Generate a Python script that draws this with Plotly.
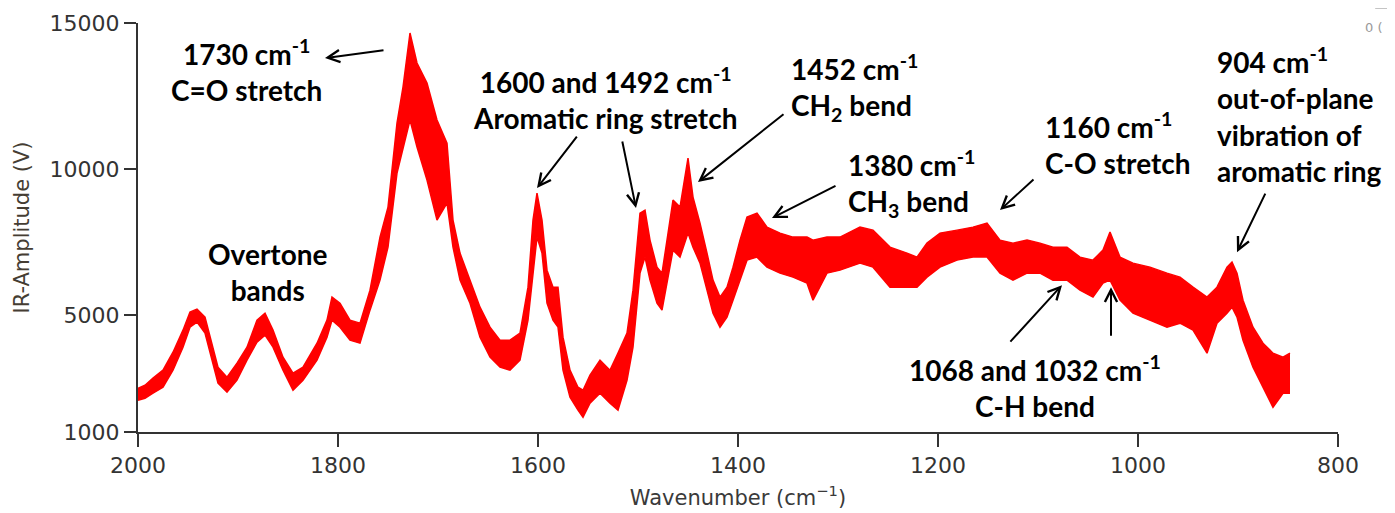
import plotly.graph_objects as go

# Wavenumber (cm^-1) and envelope (upper / lower) of the overlaid spectra, IR amplitude (V)
wavenumber = [2000, 1993, 1985, 1975, 1965, 1955, 1948, 1941, 1933, 1926, 1920, 1911, 1901, 1891,
              1881, 1873, 1865, 1855, 1845, 1835, 1821, 1811, 1806, 1798, 1788, 1778, 1768, 1758,
              1750, 1741, 1735, 1728, 1721, 1711, 1701, 1691, 1685, 1678, 1668, 1658, 1648, 1638,
              1628, 1618, 1610, 1605, 1601, 1596, 1591, 1585, 1580, 1575, 1568, 1560, 1555, 1548,
              1538, 1528, 1520, 1511, 1505, 1498, 1493, 1488, 1481, 1476, 1471, 1465, 1458, 1450,
              1445, 1438, 1431, 1425, 1418, 1411, 1405, 1398, 1391, 1381, 1371, 1358, 1345, 1331,
              1325, 1311, 1298, 1278, 1265, 1248, 1231, 1221, 1211, 1198, 1181, 1165, 1151, 1138,
              1125, 1111, 1098, 1085, 1071, 1058, 1045, 1035, 1028, 1018, 1005, 988, 971, 958,
              945, 931, 921, 911, 906, 901, 895, 885, 875, 865, 855, 848]

upper = [2499, 2602, 2842, 3116, 3732, 4486, 5102, 5205, 4931, 4040, 3218, 2876, 3355, 3903,
         4828, 5068, 4486, 3561, 3013, 3218, 4040, 4828, 5616, 5410, 4828, 4725, 5855, 7671,
         8698, 11575, 12808, 14658, 13630, 12945, 11678, 10890, 8253, 7123, 6198, 5273, 4588, 4143,
         4143, 4383, 5958, 8253, 9178, 8253, 6540, 5958, 5958, 4246, 3116, 2533, 2430, 2944,
         3458, 3116, 3698, 4383, 5855, 8493, 8595, 7568, 6643, 6438, 7568, 8938, 8698, 10377,
         9041, 8150, 7123, 6198, 5616, 5958, 6643, 7568, 8356, 8493, 8013, 7808, 7671, 7671,
         7568, 7671, 7671, 8013, 7910, 7328, 7123, 6986, 7465, 7808, 7910, 8013, 8150, 7568,
         7465, 7568, 7465, 7328, 7328, 6986, 6883, 7226, 7842, 6986, 6780, 6643, 6438, 6301,
         5958, 5616, 5958, 6643, 6814, 6438, 5513, 4588, 4040, 3698, 3561, 3698]

lower = [2088, 2157, 2328, 2533, 3116, 3903, 4588, 4760, 4383, 3458, 2670, 2362, 2773, 3458,
         4075, 4315, 3903, 3116, 2430, 2773, 3458, 4246, 4828, 4588, 4143, 4040, 5171, 6198,
         7328, 9863, 10753, 11678, 10753, 9623, 8253, 8835, 7328, 6198, 5410, 4246, 3561, 3218,
         3116, 3458, 4828, 6540, 7671, 7123, 5410, 4828, 4588, 3116, 2191, 1746, 1506, 1985,
         2328, 1985, 1746, 2773, 3903, 6438, 6986, 6198, 5410, 5171, 6095, 7226, 6986, 7808,
         7328, 6780, 5855, 5068, 4588, 4931, 5513, 6198, 6883, 6986, 6643, 6438, 6301, 6095,
         5513, 6438, 6540, 6780, 6643, 5958, 5958, 5958, 6301, 6643, 6883, 6986, 6986, 6438,
         6198, 6438, 6438, 6198, 6198, 5855, 5616, 6095, 6198, 5513, 5068, 4828, 4588, 4725,
         4486, 3698, 4725, 5068, 5273, 4931, 4143, 3218, 2533, 1849, 2328, 2328]

x_ticks = [2000, 1800, 1600, 1400, 1200, 1000, 800]
x_tick_labels = ["2000", "1800", "1600", "1400", "1200", "1000", "800"]
y_ticks = [1000, 5000, 10000, 15000]
y_tick_labels = ["1000", "5000", "10000", "15000"]

RED = "#FF0000"
AX = "#333333"
ANN_FONT = dict(family="Lato", size=28, color="black", weight="bold")

fig = go.Figure()
fig.add_trace(go.Scatter(x=wavenumber, y=lower, mode="lines",
                         line=dict(color=RED, width=1.5), showlegend=False, hoverinfo="skip"))
fig.add_trace(go.Scatter(x=wavenumber, y=upper, mode="lines", fill="tonexty", fillcolor=RED,
                         line=dict(color=RED, width=1.5), showlegend=False, hoverinfo="skip"))

# text labels: (text, x, y, xanchor, align)
labels = [
    ("1730 cm<sup>-1</sup><br>C=O stretch", 1892, 13390, "center", "center"),
    ("Overtone<br>bands", 1870, 6472, "center", "center"),
    ("1600 and 1492 cm<sup>-1</sup><br>Aromatic ring stretch", 1533, 12431, "center", "center"),
    ("1452 cm<sup>-1</sup><br>CH<sub>2</sub> bend", 1349, 12808, "left", "left"),
    ("1380 cm<sup>-1</sup><br>CH<sub>3</sub> bend", 1292, 9520, "left", "left"),
    ("1160 cm<sup>-1</sup><br>C-O stretch", 1095, 10890, "left", "left"),
    ("904 cm<sup>-1</sup><br>out-of-plane<br>vibration of<br>aromatic ring", 923, 11849, "left", "left"),
    ("1068 and 1032 cm<sup>-1</sup><br>C-H bend", 1103, 2567, "center", "center"),
]
for text, x, y, xa, al in labels:
    fig.add_annotation(x=x, y=y, text=text, showarrow=False, xanchor=xa, yanchor="middle",
                       align=al, font=ANN_FONT)

# arrows: (head_x, head_y, tail_x, tail_y)
arrows = [
    (1813, 13801, 1753, 14075),
    (1601, 9349, 1560, 11164),
    (1502, 8664, 1516, 10993),
    (1440, 9554, 1353, 11918),
    (1366, 8321, 1301, 9452),
    (1138, 8595, 1103, 9691),
    (901, 7157, 872, 9212),
    (1076, 6027, 1129, 4040),
    (1027, 5958, 1027, 4246),
]
for hx, hy, tx, ty in arrows:
    fig.add_annotation(x=hx, y=hy, ax=tx, ay=ty, xref="x", yref="y", axref="x", ayref="y",
                       text="", showarrow=True, arrowhead=5, arrowsize=1.2, arrowwidth=2,
                       arrowcolor="black")

# small cropped artefact in the top-right corner of the source image
fig.add_annotation(x=1.038, y=1.012, xref="paper", yref="paper", text="0 (",
                   showarrow=False, font=dict(family="DejaVu Sans", size=13, color="#9a9a9a"))
fig.add_shape(type="line", xref="paper", yref="paper", x0=1.031, x1=1.06, y0=1.037, y1=1.037,
              line=dict(color="#b0b0b0", width=2))

# the page body has an 8px default margin, so the figure is sized to fit the window
fig.update_layout(
    width=1387, height=505,
    margin=dict(l=130, r=57, t=15, b=81, autoexpand=False),
    paper_bgcolor="white", plot_bgcolor="white",
    font=dict(family="DejaVu Sans", color=AX),
    xaxis=dict(range=[2000, 800], tickvals=x_ticks, ticktext=x_tick_labels, ticks="outside",
               ticklen=13, tickwidth=2, automargin=False,
               tickcolor=AX, showline=True, linecolor=AX, linewidth=2, showgrid=False,
               zeroline=False, tickfont=dict(family="DejaVu Sans", size=22, color=AX),
               title=dict(text="Wavenumber (cm<sup>−1</sup>)", standoff=13,
                          font=dict(family="DejaVu Sans", size=21, color="#3a3a3a"))),
    yaxis=dict(range=[1000, 15000], tickvals=y_ticks, ticktext=y_tick_labels, ticks="outside",
               ticklen=12, tickwidth=2, automargin=False,
               tickcolor=AX, showline=True, linecolor=AX, linewidth=2, showgrid=False,
               zeroline=False, tickfont=dict(family="DejaVu Sans", size=22, color=AX),
               title=dict(text="IR-Amplitude (V)", standoff=14,
                          font=dict(family="DejaVu Sans", size=21, color="#453d33"))),
)

fig.write_html("out.html")
